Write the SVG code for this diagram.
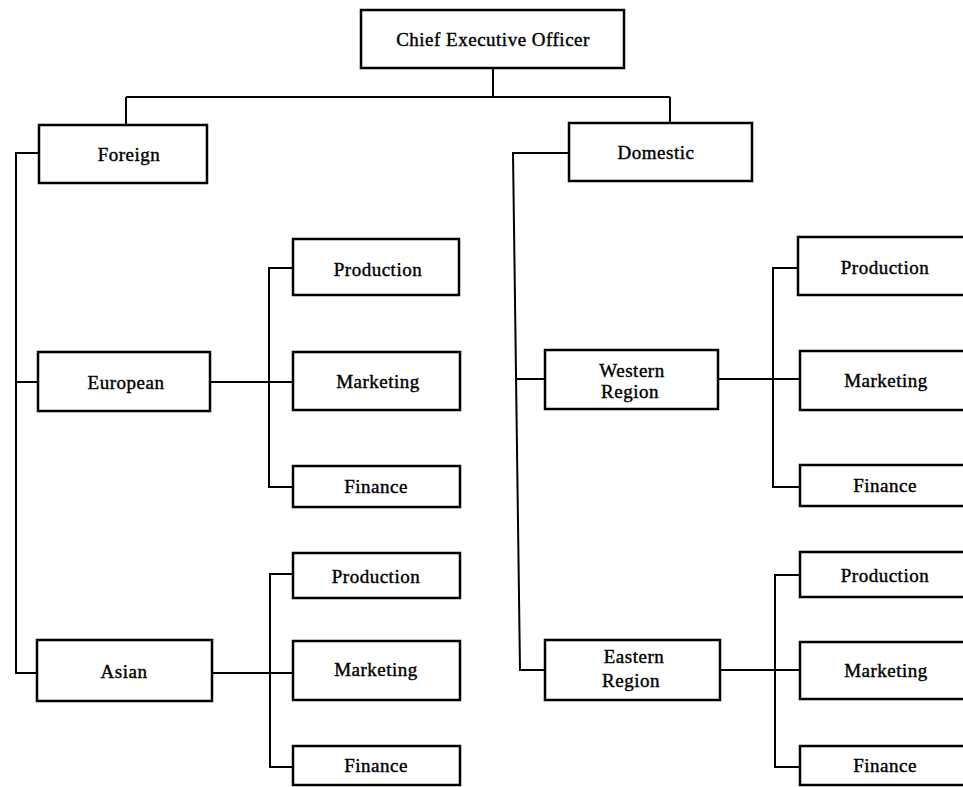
<svg xmlns="http://www.w3.org/2000/svg" width="963" height="787" viewBox="0 0 963 787">
  <style>
    .box { fill: #ffffff; stroke: #000000; stroke-width: 2.5; }
    .wire { fill: none; stroke: #000000; stroke-width: 2; }
    text { font-family: "Liberation Serif", "Times New Roman", serif; font-size: 19px; fill: #000000; stroke: #000000; stroke-width: 0.4; text-anchor: middle; letter-spacing: 0.5px; }
  </style>
  <rect width="963" height="787" fill="#ffffff"/>

  <!-- connectors -->
  <g id="connectors" class="wire">
    <path d="M493 68 V97 M126 97 H670 M126 97 V125 M670 97 V123"/>
    <!-- foreign branch -->
    <path d="M39 153 H16 V673 H37 M16 382 H38"/>
    <!-- domestic branch -->
    <path d="M569 153 H513 L520 670 H545 M516 379 H545"/>
    <!-- european departments -->
    <path d="M210 382 H293 M293 268 H269 V487 H293"/>
    <!-- asian departments -->
    <path d="M212 673 H293 M293 574 H270 V767 H293"/>
    <!-- western departments -->
    <path d="M718 379 H800 M798 268 H773 V487 H800"/>
    <!-- eastern departments -->
    <path d="M720 670 H800 M800 575 H775 V767 H800"/>
  </g>

  <g id="ceo"><rect class="box" x="361" y="10" width="263" height="58"/><text x="493" y="46">Chief Executive Officer</text></g>
  <g id="foreign"><rect class="box" x="39" y="125" width="168" height="58"/><text x="129" y="161">Foreign</text></g>
  <g id="domestic"><rect class="box" x="569" y="123" width="183" height="58"/><text x="656" y="159">Domestic</text></g>

  <g id="european"><rect class="box" x="38" y="352" width="172" height="59"/><text x="126" y="389">European</text></g>
  <g id="asian"><rect class="box" x="37" y="640" width="175" height="61"/><text x="124" y="678">Asian</text></g>
  <g id="western"><rect class="box" x="545" y="350" width="173" height="59"/><text x="632" y="377">Western</text><text x="630" y="398">Region</text></g>
  <g id="eastern"><rect class="box" x="545" y="640" width="175" height="60"/><text x="634" y="663">Eastern</text><text x="631" y="687">Region</text></g>

  <g id="eu-production"><rect class="box" x="293" y="239" width="166" height="56"/><text x="378" y="276">Production</text></g>
  <g id="eu-marketing"><rect class="box" x="293" y="352" width="167" height="58"/><text x="378" y="388">Marketing</text></g>
  <g id="eu-finance"><rect class="box" x="293" y="466" width="167" height="41"/><text x="376" y="493">Finance</text></g>

  <g id="as-production"><rect class="box" x="293" y="553" width="167" height="45"/><text x="376" y="583">Production</text></g>
  <g id="as-marketing"><rect class="box" x="293" y="641" width="167" height="59"/><text x="376" y="676">Marketing</text></g>
  <g id="as-finance"><rect class="box" x="293" y="746" width="167" height="39"/><text x="376" y="772">Finance</text></g>

  <g id="we-production"><rect class="box" x="798" y="237" width="174" height="58"/><text x="885" y="274">Production</text></g>
  <g id="we-marketing"><rect class="box" x="800" y="351" width="172" height="59"/><text x="886" y="387">Marketing</text></g>
  <g id="we-finance"><rect class="box" x="800" y="465" width="172" height="41"/><text x="885" y="492">Finance</text></g>

  <g id="ea-production"><rect class="box" x="800" y="552" width="172" height="45"/><text x="885" y="582">Production</text></g>
  <g id="ea-marketing"><rect class="box" x="800" y="642" width="172" height="57"/><text x="886" y="677">Marketing</text></g>
  <g id="ea-finance"><rect class="box" x="800" y="746" width="172" height="39"/><text x="885" y="772">Finance</text></g>
</svg>
